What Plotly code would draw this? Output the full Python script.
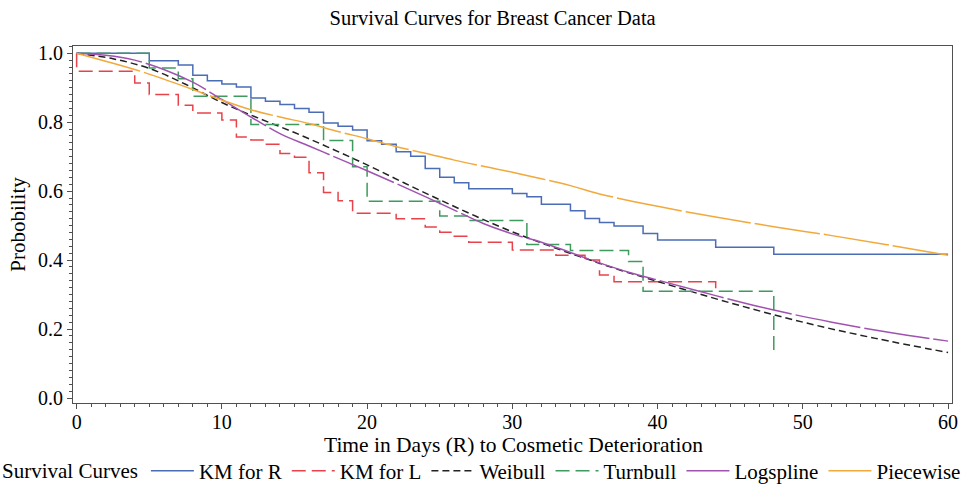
import plotly.graph_objects as go

# ---- data ----
km_r_t = [0, 5, 7, 8, 9, 10, 11, 12, 13, 14, 15, 16, 17, 18, 19, 20, 21, 22, 23, 24,
          25, 26, 27, 30, 31, 32, 34, 35, 36, 37, 39, 40, 44, 48, 60]
km_r_s = [1.0, 0.978, 0.966, 0.936, 0.920, 0.911, 0.902, 0.870, 0.861, 0.851,
          0.840, 0.829, 0.798, 0.788, 0.777, 0.746, 0.736, 0.714, 0.701, 0.666,
          0.640, 0.624, 0.607, 0.593, 0.584, 0.562, 0.543, 0.521, 0.509, 0.499,
          0.477, 0.458, 0.437, 0.417, 0.417]

km_l_t = [0, 0, 4, 5, 7, 8, 10, 11, 12, 13, 14, 15, 16, 17, 18, 19, 22, 24, 25, 26,
          27, 30, 33, 35, 36, 37, 44]
km_l_s = [1.0, 0.948, 0.914, 0.880, 0.849, 0.827, 0.806, 0.757, 0.748, 0.736,
          0.709, 0.698, 0.653, 0.596, 0.572, 0.536, 0.520, 0.496, 0.481, 0.469,
          0.452, 0.429, 0.414, 0.400, 0.357, 0.337, 0.310]

wb_t = [0, 2.5, 5, 7.5, 10, 12.5, 15, 17.5, 20, 22.5, 25, 27.5, 30, 32.5, 35, 37.5,
        40, 45, 50, 55, 60]
wb_s = [1.0, 0.984, 0.956, 0.910, 0.857, 0.812, 0.770, 0.724, 0.676, 0.625, 0.575,
        0.527, 0.482, 0.442, 0.405, 0.370, 0.338, 0.276, 0.220, 0.173, 0.132]

tb_t = [0, 5, 7, 8, 12, 17, 19, 20, 25, 27, 31, 34, 38, 39, 48]
tb_s = [1.0, 0.957, 0.926, 0.875, 0.793, 0.747, 0.671, 0.571, 0.528, 0.515, 0.445,
        0.428, 0.396, 0.310, 0.125]

ls_t = [0, 2, 4, 6, 8, 10, 12, 14, 16, 18, 20, 22, 24, 26, 28, 30, 32, 34, 36, 38,
        40, 44, 48, 52, 56, 60]
ls_s = [1.0, 0.994, 0.980, 0.953, 0.916, 0.866, 0.815, 0.767, 0.731, 0.695, 0.659,
        0.622, 0.584, 0.545, 0.506, 0.476, 0.452, 0.422, 0.392, 0.365, 0.342, 0.297,
        0.255, 0.220, 0.190, 0.165]

pw_t = [0, 2, 4, 6, 8, 10, 12, 14, 16, 18, 20, 22, 24, 26, 28, 30, 32, 34, 36, 40,
        44, 48, 52, 56, 60]
pw_s = [1.0, 0.977, 0.953, 0.925, 0.895, 0.864, 0.836, 0.815, 0.796, 0.773, 0.752,
        0.729, 0.710, 0.690, 0.672, 0.655, 0.636, 0.616, 0.592, 0.556, 0.525, 0.497,
        0.471, 0.443, 0.414]

x_ticks = [0, 10, 20, 30, 40, 50, 60]
y_ticks = [0.0, 0.2, 0.4, 0.6, 0.8, 1.0]
y_tick_labels = ["0.0", "0.2", "0.4", "0.6", "0.8", "1.0"]

FONT = "Liberation Serif, Times New Roman, serif"

fig = go.Figure()
fig.add_trace(go.Scatter(x=km_r_t, y=km_r_s, mode="lines", name="KM for R",
                         line=dict(color="#4a6db5", width=1.5, shape="hv")))
fig.add_trace(go.Scatter(x=km_l_t, y=km_l_s, mode="lines", name="KM for L",
                         line=dict(color="#e8434a", width=1.5, shape="hv", dash="14px,6px")))
fig.add_trace(go.Scatter(x=wb_t, y=wb_s, mode="lines", name="Weibull",
                         line=dict(color="#222222", width=1.5, shape="spline", dash="7px,4px")))
fig.add_trace(go.Scatter(x=tb_t, y=tb_s, mode="lines", name="Turnbull",
                         line=dict(color="#3f9a5e", width=1.5, shape="hv", dash="14px,6px")))
fig.add_trace(go.Scatter(x=ls_t, y=ls_s, mode="lines", name="Logspline",
                         line=dict(color="#a052b0", width=1.5, shape="spline", dash="66px,4px")))
fig.add_trace(go.Scatter(x=pw_t, y=pw_s, mode="lines", name="Piecewise",
                         line=dict(color="#f2a93b", width=1.5, shape="spline", dash="66px,4px")))

axis_common = dict(showline=True, linecolor="#505050", linewidth=1, mirror=True,
                   ticks="outside", tickcolor="#505050", ticklen=5, showgrid=False,
                   zeroline=False, automargin=False,
                   tickfont=dict(family=FONT, size=20, color="black"))

fig.update_xaxes(range=[-0.25, 60.27], tickmode="array", tickvals=x_ticks,
                 ticklabelstandoff=-4,
                 minor=dict(ticks="outside", dtick=1, ticklen=3, tickcolor="#505050"),
                 **axis_common)
fig.update_yaxes(range=[-0.0145, 1.021], tickmode="array", tickvals=y_ticks,
                 ticktext=y_tick_labels,
                 title=dict(text="Probobility",
                            font=dict(family=FONT, size=21, color="black"), standoff=6),
                 minor=dict(ticks="outside", dtick=0.02, ticklen=3, tickcolor="#505050"),
                 **axis_common)

# x-axis title placed as an annotation just under the tick labels
fig.add_annotation(text="Time in Days (R) to Cosmetic Deterioration",
                   xref="paper", yref="paper", x=0.5017, y=(403 - 445) / 357,
                   xanchor="center", yanchor="middle", showarrow=False,
                   font=dict(family=FONT, size=21.5, color="black"))

fig.update_layout(
    width=964, height=486,
    margin=dict(l=73, r=12, t=46, b=83, autoexpand=False),
    paper_bgcolor="white", plot_bgcolor="white",
    font=dict(family=FONT, size=20, color="black"),
    title=dict(text="Survival Curves for Breast Cancer Data", x=0.511, xref="container",
               y=1 - 18 / 486, yref="container", xanchor="center", yanchor="middle",
               font=dict(family=FONT, size=20.5, color="black")),
    showlegend=True,
    legend=dict(orientation="h", x=0.0, xref="container", xanchor="left",
                y=1 - 471 / 486, yref="container", yanchor="middle",
                title=dict(text="Survival Curves", side="left",
                           font=dict(family=FONT, size=21, color="black")),
                font=dict(family=FONT, size=21, color="black"),
                itemwidth=43, bgcolor="rgba(0,0,0,0)", tracegroupgap=0),
)

fig.write_html("out.html")
